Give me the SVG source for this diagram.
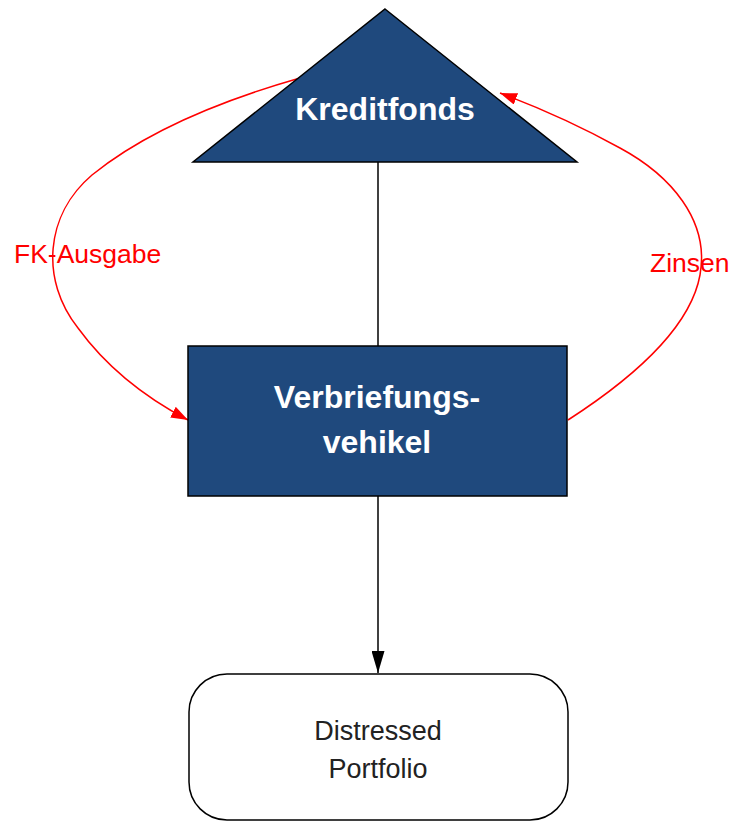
<svg xmlns="http://www.w3.org/2000/svg" width="735" height="823" viewBox="0 0 735 823">
<style>
.shape{fill:#1F497D;stroke:#000;stroke-width:1.5}
.wt{fill:#fff;font-family:"Liberation Sans",Arial,sans-serif;font-weight:bold;text-anchor:middle}
.rl{fill:none;stroke:#FF0000;stroke-width:1.5}
.rt{fill:#FF0000;font-family:"Liberation Sans",Arial,sans-serif;font-size:26.5px}
.bl{fill:none;stroke:#000;stroke-width:1.5}
.pt{fill:#222;font-family:"Liberation Sans",Arial,sans-serif;font-size:27px;text-anchor:middle}
</style>
<defs>
<marker id="ar" viewBox="0 0 10 10" refX="10" refY="5" markerWidth="17" markerHeight="12" markerUnits="userSpaceOnUse" orient="auto" preserveAspectRatio="none"><path d="M0,0 L10,5 L0,10 z" fill="#FF0000"/></marker>
<marker id="ab" viewBox="0 0 10 10" refX="10" refY="5" markerWidth="22" markerHeight="13" markerUnits="userSpaceOnUse" orient="auto" preserveAspectRatio="none"><path d="M0,0 L10,5 L0,10 z" fill="#000"/></marker>
</defs>
<rect width="735" height="823" fill="#fff"/>
<g id="connectors">
<line class="bl" x1="378" y1="162" x2="378" y2="346"/>
<line class="bl" x1="378" y1="496" x2="378" y2="673" marker-end="url(#ab)"/>
<path class="rl" d="M300,78 C230,98 150,128 92,175 C45,215 40,280 78,328 C110,372 150,400 188,420" marker-end="url(#ar)"/>
<path class="rl" d="M568,420 C630,380 690,330 700,275 C710,220 670,175 620,148 C580,126 540,108 500,93" marker-end="url(#ar)"/>
<text class="rt" x="14" y="263">FK-Ausgabe</text>
<text class="rt" x="650" y="272">Zinsen</text>
</g>
<g id="kreditfonds">
<polygon class="shape" points="385,9 577,162 193,162"/>
<text class="wt" x="385" y="120" font-size="32">Kreditfonds</text>
</g>
<g id="vehikel">
<rect class="shape" x="188" y="346" width="379" height="150"/>
<text class="wt" x="377" y="408" font-size="32">Verbriefungs-</text>
<text class="wt" x="377" y="453" font-size="32">vehikel</text>
</g>
<g id="portfolio">
<rect x="189" y="674" width="379" height="146" rx="38" ry="38" fill="#fff" stroke="#000" stroke-width="1.5"/>
<text class="pt" x="378" y="740">Distressed</text>
<text class="pt" x="378" y="778">Portfolio</text>
</g>
</svg>
